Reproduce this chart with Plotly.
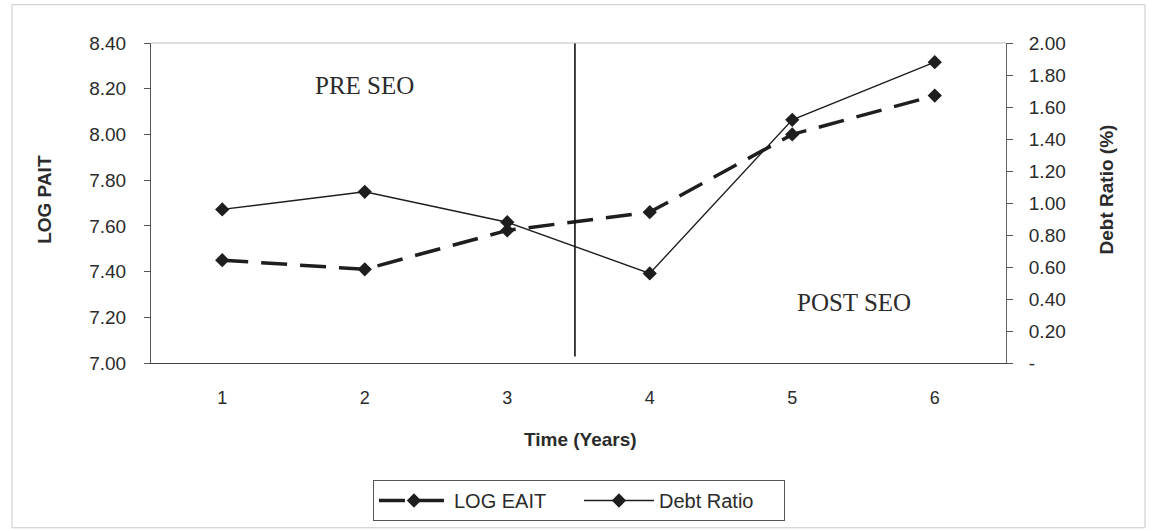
import plotly.graph_objects as go

# ---- data ----
time_years = [1, 2, 3, 4, 5, 6]
time_labels = ["1", "2", "3", "4", "5", "6"]
log_eait = [7.45, 7.41, 7.58, 7.66, 8.00, 8.17]
debt_ratio = [0.96, 1.07, 0.88, 0.56, 1.52, 1.88]

left_ticks = [7.0, 7.2, 7.4, 7.6, 7.8, 8.0, 8.2, 8.4]
left_ticktext = ["7.00", "7.20", "7.40", "7.60", "7.80", "8.00", "8.20", "8.40"]
right_ticks = [0.0, 0.2, 0.4, 0.6, 0.8, 1.0, 1.2, 1.4, 1.6, 1.8, 2.0]
right_ticktext = ["-", "0.20", "0.40", "0.60", "0.80", "1.00", "1.20", "1.40", "1.60", "1.80", "2.00"]
x_boundaries = [1.5, 2.5, 3.5, 4.5, 5.5]
divider_x = 3.475

FONT = "Liberation Sans, Arial, sans-serif"
SERIF = "Liberation Serif, Times New Roman, serif"
TXT = "#2b2b2b"
INK = "#1e1e1e"

fig = go.Figure()
fig.add_trace(go.Scatter(
    x=time_years, y=log_eait, name="LOG EAIT", mode="lines+markers",
    line=dict(color=INK, width=3.5, dash="26px,13px"),
    marker=dict(symbol="diamond", size=11, color=INK),
    yaxis="y"))
fig.add_trace(go.Scatter(
    x=time_years, y=debt_ratio, name="Debt Ratio", mode="lines+markers",
    line=dict(color=INK, width=1.4),
    marker=dict(symbol="diamond", size=11, color=INK),
    yaxis="y2"))

axis_common = dict(showgrid=False, zeroline=False)

fig.update_layout(
    width=1154, height=531,
    margin=dict(l=151, r=148, t=43, b=168),
    paper_bgcolor="white", plot_bgcolor="white",
    font=dict(family=FONT, size=18, color=TXT),
    xaxis=dict(range=[0.5, 6.5], tickvals=time_years, ticktext=time_labels,
               ticks="", showline=True, linecolor="#444", linewidth=1,
               ticklabelstandoff=18, tickfont=dict(size=18, color=TXT),
               fixedrange=True, **axis_common),
    xaxis2=dict(range=[0.5, 6.5], overlaying="x", anchor="y", side="bottom",
                tickvals=x_boundaries, ticks="outside", ticklen=5, tickcolor="#555",
                showticklabels=False, showline=False, **axis_common),
    xaxis3=dict(range=[0.5, 6.5], overlaying="x", anchor="y", side="bottom",
                tickvals=x_boundaries, ticks="inside", ticklen=5, tickcolor="#555",
                showticklabels=False, showline=False, **axis_common),
    yaxis=dict(range=[7.0, 8.4], tickvals=left_ticks, ticktext=left_ticktext,
               ticks="outside", ticklen=6, tickcolor="#555",
               showline=True, linecolor="#555", linewidth=1,
               ticklabelstandoff=14, tickfont=dict(size=19, color=TXT),
               **axis_common),
    yaxis3=dict(range=[7.0, 8.4], overlaying="y", side="left", anchor="x",
                tickvals=left_ticks, ticks="inside", ticklen=5, tickcolor="#555",
                showticklabels=False, showline=False, **axis_common),
    yaxis2=dict(range=[0, 2.0], overlaying="y", side="right", anchor="x",
                tickvals=right_ticks, ticktext=right_ticktext,
                ticks="outside", ticklen=6, tickcolor="#555",
                showline=True, linecolor="#666", linewidth=1,
                ticklabelstandoff=12, tickfont=dict(size=19, color=TXT),
                **axis_common),
    yaxis4=dict(range=[0, 2.0], overlaying="y", side="right", anchor="x",
                tickvals=right_ticks, ticks="inside", ticklen=5, tickcolor="#555",
                showticklabels=False, showline=False, **axis_common),
    legend=dict(orientation="h", xref="container", yref="container",
                x=0.3232, y=0.096, xanchor="left", yanchor="top",
                bordercolor="#555", borderwidth=1, bgcolor="white",
                font=dict(size=20, color=TXT, family=FONT), itemwidth=70,
                entrywidth=120, entrywidthmode="pixels",
                traceorder="normal"),
    showlegend=True,
)

shapes = [
    # divider between pre and post SEO
    dict(type="line", xref="x", yref="paper", x0=divider_x, x1=divider_x, y0=0.02, y1=1.0,
         line=dict(color="#111", width=1.6)),
    # top border of plot area
    dict(type="line", xref="paper", yref="paper", x0=0, x1=1, y0=1, y1=1,
         line=dict(color="#bdbdbd", width=1)),
    # outer chart frame
    dict(type="rect", xref="paper", yref="paper", x0=-0.1626, x1=1.1626, y0=-0.515, y1=1.1197,
         line=dict(color="#c8c8c8", width=1)),
]
fig.update_layout(shapes=shapes)

annotations = [
    dict(text="<b>LOG PAIT</b>", xref="paper", yref="paper", x=-0.124, y=0.513,
         textangle=-90, showarrow=False, xanchor="center", yanchor="middle",
         font=dict(size=19, color=TXT, family=FONT)),
    dict(text="<b>Time (Years)</b>", xref="paper", yref="paper", x=0.502, y=-0.24,
         showarrow=False, xanchor="center", yanchor="middle",
         font=dict(size=19, color=TXT, family=FONT)),
    dict(text="<b>Debt Ratio (%)</b>", xref="paper", yref="paper", x=1.118, y=0.542,
         textangle=-90, showarrow=False, xanchor="center", yanchor="middle",
         font=dict(size=19, color=TXT, family=FONT)),
    dict(text="PRE SEO", xref="x", yref="paper", x=2, y=0.867,
         showarrow=False, xanchor="center", yanchor="middle",
         font=dict(size=25, color=TXT, family=SERIF)),
    dict(text="POST SEO", xref="x", yref="paper", x=5.433, y=0.19,
         showarrow=False, xanchor="center", yanchor="middle",
         font=dict(size=25, color=TXT, family=SERIF)),
]
fig.update_layout(annotations=annotations)

fig.write_html("out.html", config={"displayModeBar": False},
               post_script="document.body.style.margin='0px';")
